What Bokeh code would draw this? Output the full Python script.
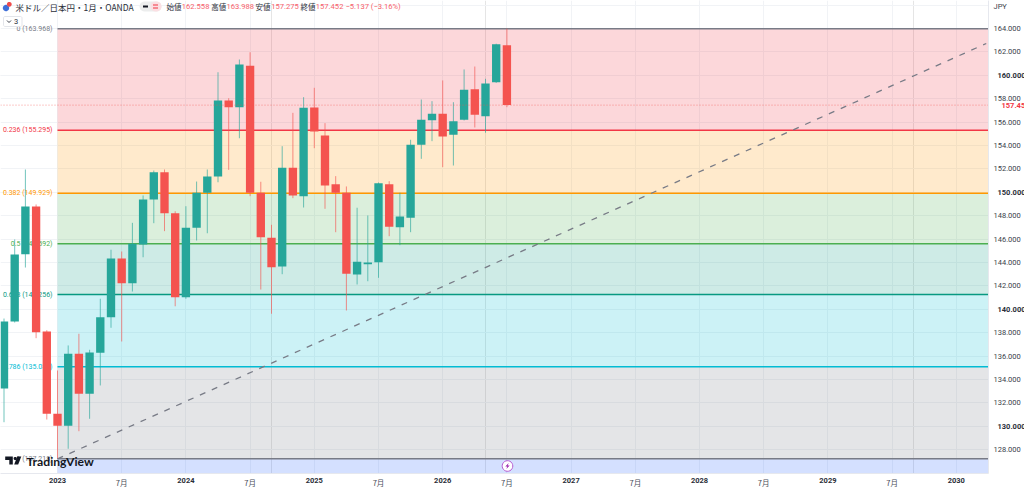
import numpy as np
from bokeh.plotting import figure
from bokeh.embed import file_html
from bokeh.resources import INLINE
from bokeh.core.properties import value
from bokeh.models import (LinearAxis, FixedTicker, Grid, Label, PolyAnnotation,
                          PrintfTickFormatter, Range1d)

# ---- data (months counted from 2023-01 = 0) ----
months = list(range(-5, 43))
opens = [133.23,138.96,144.71,148.79,138.10,131.07,130.04,136.20,132.78,136.28,139.33,144.34,
         142.23,145.54,149.38,151.72,148.21,141.03,146.97,149.96,151.35,157.85,157.27,160.81,
         149.96,146.11,143.66,152.09,149.67,157.24,154.85,150.69,149.96,142.97,143.85,144.03,
         150.69,147.02,147.82,154.06,156.15,156.71,154.91,156.20,158.81,156.50,159.40,162.558]
highs = [139.21,145.97,151.95,148.96,138.21,134.77,136.91,137.91,136.54,140.90,145.09,144.94,
         147.39,149.73,151.86,151.95,148.38,148.81,150.92,151.95,160.26,158.04,161.35,161.97,
         150.90,147.22,153.94,156.79,158.13,158.93,155.91,151.38,150.50,148.68,148.02,150.84,
         150.95,149.96,154.49,157.93,157.79,159.56,157.70,160.50,160.75,159.70,162.70,163.988]
lows = [130.35,138.87,143.57,137.53,130.58,127.218,128.08,129.58,130.64,133.49,138.42,137.25,
        141.52,144.45,147.36,146.68,140.26,140.90,145.88,146.50,150.86,151.92,154.62,149.67,
        141.69,139.62,143.00,149.50,148.70,153.77,148.59,146.59,139.90,142.12,142.40,142.69,
        146.25,145.48,146.59,152.86,154.37,152.15,152.29,156.14,155.54,155.09,159.35,157.275]
closes = [138.96,144.68,148.79,138.04,131.07,130.04,136.20,132.78,136.31,139.33,144.34,142.23,
          145.60,149.38,151.72,148.21,141.03,146.97,149.96,151.35,157.85,157.27,160.92,149.96,
          146.16,143.60,152.09,149.73,157.22,155.20,150.58,149.96,143.03,144.06,144.00,150.78,
          147.05,147.93,154.06,156.20,156.71,154.77,156.08,158.76,156.62,159.30,162.66,157.452]

fib_names = ["0", "0.236", "0.382", "0.5", "0.618", "0.786", "1"]
fib_prices = [163.968, 155.295, 149.929, 145.592, 141.256, 135.081, 127.218]
fib_colors = ["#787b86", "#f23645", "#ff9800", "#4caf50", "#089981", "#00bcd4", "#787b86"]
fib_fills = ["#f23645", "#ff9800", "#4caf50", "#089981", "#00bcd4", "#787b86", "#2962ff"]

trend_months = [0, 86.8]
trend_prices = [127.218, 162.72]
last_price = 157.452

year_ticks = [0, 12, 24, 36, 48, 60, 72, 84]
year_labels = ["2023", "2024", "2025", "2026", "2027", "2028", "2029", "2030"]
july_ticks = [6, 18, 30, 42, 54, 66, 78]
price_ticks = list(range(128, 166, 2))

# ---- pixel helpers for the decorations ----
def X(px):
    return (px - 57) / 10.7
def Y(py):
    return 164 - (py - 28) / 11.7

XMIN, XMAX, YMIN, YMAX = X(0), X(988), Y(473), Y(0)

p = figure(frame_width=988, frame_height=473, output_backend="svg", toolbar_location=None,
           x_range=Range1d(XMIN, XMAX), y_range=Range1d(YMIN, YMAX),
           x_axis_location=None, y_axis_location=None,
           min_border_left=0, min_border_top=0, min_border_right=36, min_border_bottom=15,
           outline_line_color=None, background_fill_color="white", border_fill_color=None)

GRID = "#f1f3f6"
p.add_layout(Grid(dimension=0, ticker=FixedTicker(ticks=sorted(year_ticks + july_ticks)),
                  grid_line_color=GRID))
p.add_layout(Grid(dimension=1, ticker=FixedTicker(ticks=price_ticks + [166]), grid_line_color=GRID))

# fib bands and lines
band_tops = fib_prices
band_bottoms = fib_prices[1:] + [YMIN]
p.quad(left=0, right=XMAX, top=band_tops, bottom=band_bottoms, fill_color=fib_fills,
       fill_alpha=0.2, line_color=None)
p.segment(x0=0, x1=XMAX, y0=fib_prices, y1=fib_prices, line_color=fib_colors, line_width=1.5)

# fib labels sit under the candles
for n, pr, c in zip(fib_names, fib_prices, fib_colors):
    p.text(x=[X(52)], y=[pr], text=[f"{n} ({pr:.3f})"], text_color=c, text_font_size="7px",
           text_font=value("Roboto"), text_align="right", text_baseline="middle")

# candles
UP, DOWN = "#26a69a", "#f4534f"
cols = [UP if c >= o else DOWN for o, c in zip(opens, closes)]
p.segment(x0=months, x1=months, y0=lows, y1=highs, line_color=cols, line_width=1, line_alpha=0.65)
p.vbar(x=months, width=0.78, top=np.maximum(opens, closes), bottom=np.minimum(opens, closes),
       fill_color=cols, line_color=None)

# trend line and last price
p.line(x=trend_months, y=trend_prices, line_color="#787b86", line_width=1.3, line_dash="6 7")
p.segment(x0=[XMIN], x1=[XMAX], y0=[last_price], y1=[last_price], line_color=DOWN,
          line_width=1, line_dash="1 2", line_alpha=0.6)

# axes: several stacked on one side, pulled back with negative standoffs so that
# each tick group can have its own weight and colour
NO_TICKS = dict(major_tick_in=0, major_tick_out=0, minor_tick_in=0, minor_tick_out=0)

def bottom(ticks, labels, standoff, font, bold, color, line):
    p.add_layout(LinearAxis(ticker=FixedTicker(ticks=ticks),
                            major_label_overrides=dict(zip(ticks, labels)),
                            axis_line_color=line, major_label_standoff=standoff,
                            major_label_text_font=font, major_label_text_font_size="7.5px",
                            major_label_text_font_style="bold" if bold else "normal",
                            major_label_text_color=color, **NO_TICKS), "below")

bottom(year_ticks, year_labels, 4, "Roboto", True, "#2a2e39", "#e6e8ee")
bottom(july_ticks, ["7月"] * len(july_ticks), -9, "Noto Sans CJK JP", False, "#4a4e5a", None)

jpy_tick = Y(5.5)
plain = [t for t in price_ticks if t % 10] + [jpy_tick]
p.add_layout(LinearAxis(ticker=FixedTicker(ticks=plain),
                        formatter=PrintfTickFormatter(format="%.3f"),
                        major_label_overrides={jpy_tick: "JPY"},
                        axis_line_color="#e6e8ee", major_label_standoff=5,
                        major_label_text_font="Roboto", major_label_text_font_size="7.5px",
                        major_label_text_color="#3a3e4a", **NO_TICKS), "right")
p.add_layout(LinearAxis(ticker=FixedTicker(ticks=[t for t in price_ticks if t % 10 == 0]),
                        formatter=PrintfTickFormatter(format="%.3f"),
                        axis_line_color=None, major_label_standoff=-26,
                        major_label_text_font="Roboto", major_label_text_font_size="7.5px",
                        major_label_text_font_style="bold",
                        major_label_text_color="#2a2e39", **NO_TICKS), "right")
p.add_layout(LinearAxis(ticker=FixedTicker(ticks=[last_price]),
                        formatter=PrintfTickFormatter(format="%.3f"),
                        axis_line_color=None, major_label_standoff=-27,
                        major_label_text_font="Roboto", major_label_text_font_size="7.5px",
                        major_label_text_font_style="bold",
                        major_label_text_color="#f23645", **NO_TICKS), "right")

FH = 473

def lab(px, py, s, color="#131722", size=7.5, font="Roboto", align="left", bold=False, level="annotation"):
    p.add_layout(Label(x=px, y=FH - py, x_units="screen", y_units="screen", text=s,
                       text_color=color, text_font_size=f"{size}px",
                       text_font=font, text_align=align, text_baseline="middle",
                       text_font_style="bold" if bold else "normal", level=level))

def poly(xs, ys, fill=None, line=None, lw=1):
    p.add_layout(PolyAnnotation(xs=[float(a) for a in xs], ys=[float(FH - b) for b in ys],
                                xs_units="screen", ys_units="screen",
                                fill_color=fill, fill_alpha=1 if fill else 0,
                                line_color=line, line_alpha=1 if line else 0, line_width=lw,
                                level="annotation"))

def round_rect(x0, y0, x1, y1, r):
    t = np.linspace(0, np.pi / 2, 6)
    xs, ys = [], []
    for cx, cy, a in [(x1 - r, y0 + r, -np.pi / 2), (x1 - r, y1 - r, 0),
                      (x0 + r, y1 - r, np.pi / 2), (x0 + r, y0 + r, np.pi)]:
        xs += list(cx + r * np.cos(t + a))
        ys += list(cy + r * np.sin(t + a))
    return xs, ys

def circle(cx, cy, r):
    t = np.linspace(0, 2 * np.pi, 24)[:-1]
    return list(cx + r * np.cos(t)), list(cy + r * np.sin(t))

# header
poly(*circle(5.5, 7.5, 3.2), fill="#3f6fd8")
poly(*circle(8.8, 3.8, 2.4), fill="#ef4b4b")
lab(15, 6, "米ドル／日本円・1月・OANDA", size=8.5, font="Noto Sans CJK JP", color="#2a2e39")
poly(*round_rect(139, 1, 161, 11, 5), fill="#eceded")
poly(*round_rect(150, 1, 161, 11, 5), fill="#fbdfe3")
poly([142.5, 147.5, 147.5, 142.5], [5, 5, 7, 7], fill="#131722")
poly([152.5, 157.5, 157.5, 152.5], [4, 4, 5, 5], fill="#f23645")
poly([152.5, 157.5, 157.5, 152.5], [7, 7, 8, 8], fill="#f23645")
VAL = "#f7616b"
for a, av, title, val in [(166, 181.3, "始値", "162.558"), (210.7, 226, "高値", "163.988"),
                          (255, 270.7, "安値", "157.275"), (300, 315.3, "終値", "157.452")]:
    lab(a, 6, title, size=7.5, font="Noto Sans CJK JP", color="#2a2e39")
    lab(av, 6, val, color=VAL, size=7.6)
lab(345, 6, "−5.137 (−3.16%)", color=VAL, size=7.6)

# "3" button
poly(*round_rect(3, 16, 21.5, 26, 1.5), fill="white", line="#e3e5ea")
p.line(x=[X(6.5), X(8.5), X(10.5)], y=[Y(20), Y(22), Y(20)], line_color="#3a3e4a", line_width=1, level="overlay")
lab(15.5, 21, "3", size=7.5, align="center", color="#2a2e39")

# TradingView mark
poly([4.7, 12.3, 12.3, 8.8, 8.8, 4.7], [456, 456, 464, 464, 459.5, 459.5], fill="#131722")
poly(*circle(14.7, 458, 1.6), fill="#131722")
poly([16.7, 20.8, 17.7, 13.7], [456, 456, 464, 464], fill="#131722")
lab(26, 461, "TradingView", size=12.2, font="Lato", bold=True, color="#131722")

# event marker
poly(*circle(507, 465.5, 5.3), fill="white", line="#b65bd0", lw=1)
poly([508.2, 504.8, 506.8, 505.8, 509.2, 507.2], [462.5, 466, 466, 468.5, 465, 465], fill="#9c27b0")

open("out.html", "w").write(file_html(p, INLINE))
